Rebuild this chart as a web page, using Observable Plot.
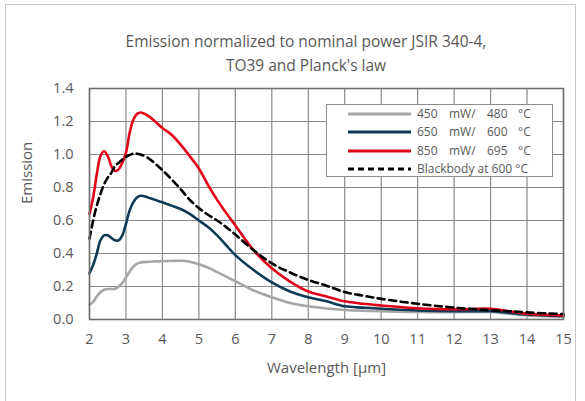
<!DOCTYPE html>
<html>
<head>
<meta charset="utf-8">
<script src="https://cdn.jsdelivr.net/npm/d3@7"></script>
<script src="https://cdn.jsdelivr.net/npm/@observablehq/plot@0.6"></script>
<style>
  html, body { margin: 0; padding: 0; background: #fff; }
  #wrap { position: relative; width: 585px; height: 401px; overflow: hidden; font-family: "Open Sans", sans-serif; color: #595959; }
  #border { position: absolute; left: 5px; top: 4px; width: 571px; height: 420px; border: 1px solid #c8c8c8; box-sizing: border-box; }
  #title { position: absolute; left: 106px; width: 400px; top: 29px; text-align: center; font-size: 15.5px; line-height: 24px; color: #595959; }
  #chart { position: absolute; left: 0; top: 0; }
  #legend { position: absolute; left: 326px; top: 104px; width: 227px; height: 73px; box-sizing: border-box; border: 1px solid #8c8c8c; background: #fff; font-size: 12px; color: #595959; }
  .row { position: absolute; left: 0; height: 18px; width: 100%; }
  .row svg { position: absolute; left: 20px; top: 0; }
  .row span { position: absolute; top: 0; line-height: 18px; white-space: pre; }
</style>
</head>
<body>
<div id="wrap">
  <div id="border"></div>
  <div id="chart"></div>
  <div id="title">Emission normalized to nominal power JSIR 340-4,<br>TO39 and Planck's law</div>
  <div id="legend"></div>
</div>
<script>
const wavelength = [2.0, 2.1, 2.2, 2.3, 2.4, 2.5, 2.6, 2.7, 2.8, 2.9, 3.0, 3.1, 3.2, 3.3, 3.4, 3.6, 3.8, 4.0, 4.25, 4.5, 4.75, 5.0, 5.25, 5.5, 5.75, 6.0, 6.5, 7.0, 7.5, 8.0, 8.5, 9.0, 9.5, 10, 11, 12, 13, 13.5, 14, 15];

const s450 = [0.09, 0.105, 0.14, 0.165, 0.18, 0.185, 0.185, 0.186, 0.20, 0.22, 0.255, 0.29, 0.32, 0.337, 0.345, 0.35, 0.352, 0.353, 0.355, 0.356, 0.35, 0.335, 0.315, 0.287, 0.26, 0.232, 0.176, 0.135, 0.10, 0.08, 0.067, 0.058, 0.053, 0.05, 0.045, 0.045, 0.045, 0.035, 0.025, 0.018];

const s650 = [0.28, 0.33, 0.40, 0.48, 0.51, 0.51, 0.495, 0.48, 0.48, 0.51, 0.58, 0.66, 0.71, 0.74, 0.75, 0.74, 0.725, 0.71, 0.69, 0.67, 0.64, 0.60, 0.56, 0.51, 0.45, 0.39, 0.30, 0.225, 0.17, 0.135, 0.11, 0.08, 0.072, 0.065, 0.055, 0.05, 0.05, 0.04, 0.03, 0.02];

const s850 = [0.64, 0.74, 0.88, 0.99, 1.02, 0.99, 0.93, 0.90, 0.91, 0.95, 1.01, 1.13, 1.21, 1.245, 1.255, 1.235, 1.20, 1.16, 1.12, 1.06, 0.99, 0.915, 0.815, 0.725, 0.645, 0.57, 0.42, 0.31, 0.23, 0.17, 0.14, 0.11, 0.095, 0.085, 0.068, 0.062, 0.065, 0.05, 0.035, 0.025];

const blackbody = [0.49, 0.60, 0.69, 0.76, 0.82, 0.86, 0.89, 0.93, 0.95, 0.97, 0.985, 0.997, 1.005, 1.005, 1.0, 0.98, 0.945, 0.905, 0.85, 0.79, 0.725, 0.675, 0.635, 0.60, 0.56, 0.515, 0.42, 0.34, 0.285, 0.24, 0.205, 0.166, 0.145, 0.125, 0.095, 0.072, 0.056, 0.05, 0.043, 0.033];

const xTicks = [2, 3, 4, 5, 6, 7, 8, 9, 10, 11, 12, 13, 14, 15];
const yTicks = [0, 0.2, 0.4, 0.6, 0.8, 1.0, 1.2, 1.4];

const seriesNames = ["450", "650", "850", "bb"];
const seriesLabels = [["450", "mW/", "480", "°C"], ["650", "mW/", "600", "°C"], ["850", "mW/", "695", "°C"], ["Blackbody at 600 °C"]];
const seriesColors = ["#a6a6a6", "#0e3a56", "#e2001a", "#000000"];
const seriesValues = [s450, s650, s850, blackbody];

const rows = [];
seriesNames.forEach((name, i) => {
  wavelength.forEach((w, j) => rows.push({series: name, x: w, y: seriesValues[i][j]}));
});

const grid = "#8a8a8a";
const curve = "catmull-rom";

const lineMarks = seriesNames.map((name, i) =>
  Plot.line(rows.filter(d => d.series === name), {
    x: "x", y: "y",
    stroke: seriesColors[i],
    strokeWidth: 2.6,
    strokeDasharray: name === "bb" ? "7,4.5" : null,
    curve
  })
);

const chart = Plot.plot({
  width: 585,
  height: 401,
  marginLeft: 89,
  marginRight: 22,
  marginTop: 88,
  marginBottom: 82,
  style: {fontFamily: "Open Sans, sans-serif", fontSize: "14px", color: "#595959", background: "transparent"},
  x: {domain: [2, 15], ticks: xTicks, label: null},
  y: {domain: [0, 1.4], ticks: yTicks, label: null},
  marks: [
    Plot.gridX(xTicks, {stroke: grid, strokeOpacity: 1, strokeWidth: 1.2}),
    Plot.gridY(yTicks, {stroke: grid, strokeOpacity: 1, strokeWidth: 1.2}),
    Plot.axisX(xTicks, {tickSize: 0, tickPadding: 14, fill: "#595959", fontSize: 14.5, label: null}),
    Plot.axisY(yTicks, {tickSize: 0, tickPadding: 16, fill: "#595959", fontSize: 14.5, tickFormat: d3.format(".1f"), label: null}),
    ...lineMarks,
    Plot.frame({stroke: "#707070", strokeWidth: 1.6}),
    Plot.text(["Wavelength [µm]"], {frameAnchor: "bottom", dy: 53, fill: "#595959", fontSize: 15}),
    Plot.text(["Emission"], {frameAnchor: "left", dx: -62, rotate: -90, fill: "#595959", fontSize: 15})
  ]
});
document.getElementById("chart").appendChild(chart);

// legend
const legend = document.getElementById("legend");
const colX = [90, 122, 160, 191];
seriesNames.forEach((name, i) => {
  const row = document.createElement("div");
  row.className = "row";
  row.style.top = (i * 18.3) + "px";
  const dash = name === "bb" ? ' stroke-dasharray="6,4"' : "";
  row.innerHTML = `<svg width="66" height="18"><line x1="1" x2="64" y1="9" y2="9" stroke="${seriesColors[i]}" stroke-width="2.8"${dash}/></svg>`;
  seriesLabels[i].forEach((t, k) => {
    const s = document.createElement("span");
    s.textContent = t;
    s.style.left = colX[k] + "px";
    row.appendChild(s);
  });
  legend.appendChild(row);
});
</script>
</body>
</html>
